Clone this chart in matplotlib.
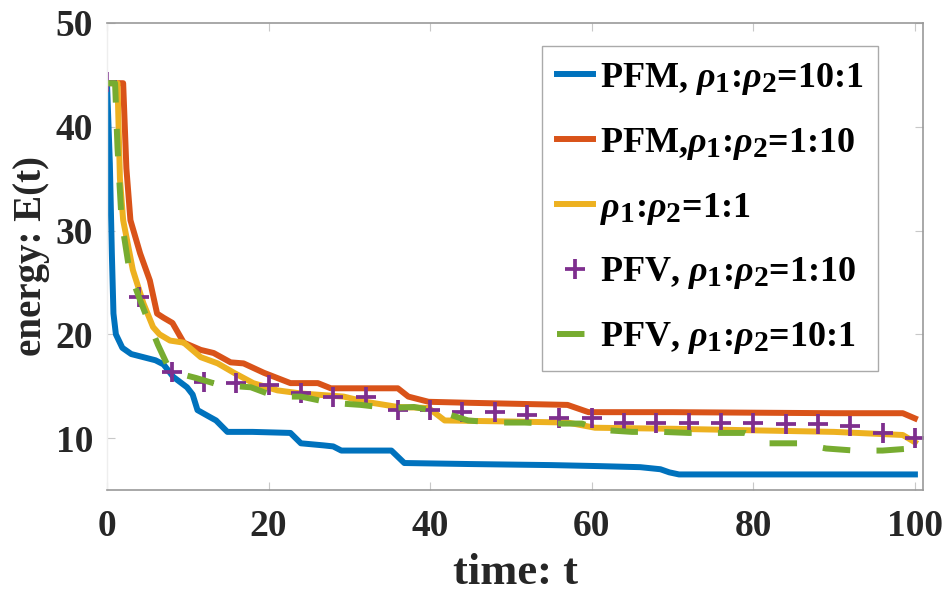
import matplotlib
matplotlib.use("Agg")
import matplotlib.pyplot as plt
try:
    import matplotlib._mathtext as _mt
    _mt.SHRINK_FACTOR = 0.82
except Exception:
    pass

# ---- data ----
t_pfm_10_1 = [0, 0.35, 0.6, 0.8, 1.1, 1.9, 3, 4.5, 6, 7, 8.2, 9.9, 10.6, 11.2, 12.8, 13.5, 14.9,
              18, 22.7, 24, 26.8, 28, 29, 30, 35.2, 36.8, 45, 55, 61, 66, 68.5, 69.6, 70.8, 100]
E_pfm_10_1 = [44.2, 36.5, 27.8, 22.0, 20.0, 18.7, 18.1, 17.8, 17.5, 17.1, 15.9, 14.9, 14.2, 12.7, 12.0, 11.7, 10.6,
              10.6, 10.5, 9.5, 9.3, 9.2, 8.8, 8.8, 8.8, 7.6, 7.5, 7.4, 7.3, 7.2, 7.0, 6.7, 6.5, 6.5]

t_pfm_1_10 = [0, 2.0, 2.4, 2.9, 4.1, 5.3, 6.2, 7, 8.1, 9.5, 11.6, 13.2, 15.3, 16.9, 19.4, 22.7, 24, 26.1,
              27.7, 36, 37.3, 39.8, 45, 57, 59.6, 70, 90, 98.5, 100]
E_pfm_1_10 = [44.2, 44.2, 36, 31, 27.8, 25.2, 22, 21.6, 21.1, 19.2, 18.5, 18.2, 17.3, 17.2, 16.3, 15.3, 15.3, 15.3,
              14.8, 14.8, 14.0, 13.5, 13.4, 13.2, 12.5, 12.5, 12.4, 12.4, 11.9]

t_1_1 = [0, 1.3, 1.6, 2, 3.2, 4.5, 5.7, 6.5, 7.8, 9.5, 11.6, 13.7, 15.7, 18.1, 21.1, 24, 29.3, 32, 36,
         39.8, 41.8, 50, 57, 60.4, 70, 90, 98.5, 100]
E_1_1 = [44.2, 44.2, 35, 31, 26.2, 23, 20.7, 20, 19.4, 19.2, 17.8, 17.2, 16.3, 15.3, 14.6, 14.3, 14.0, 13.5, 13.0,
         12.9, 11.7, 11.6, 11.5, 11.0, 10.9, 10.6, 10.3, 9.6]

t_pfv_1_10 = [0, 4, 8, 12, 16, 20, 24, 28, 32, 36, 40, 44, 48, 52, 56, 60, 64, 68, 72, 76, 80, 84, 88, 92, 96, 100]
E_pfv_1_10 = [44.3, 23.6, 16.4, 15.4, 15.3, 15.1, 14.3, 14.0, 14.0, 12.7, 12.7, 12.5, 12.5, 12.2, 11.9, 11.9,
              11.5, 11.5, 11.5, 11.5, 11.5, 11.4, 11.4, 11.2, 10.5, 10.0]

t_pfv_10_1 = [0, 1.0, 1.3, 1.8, 2.8, 4, 5, 6.3, 7.8, 9, 11, 14, 17.8, 20.9, 24, 27.7, 31.4, 34.8, 38, 41.4,
              44.7, 48, 51.7, 54.8, 58.8, 61, 65, 68.7, 72, 75.5, 79, 82, 85.7, 89, 92.5, 96, 99.5, 100]
E_pfv_10_1 = [44.2, 44.2, 38, 31, 26, 23.5, 21.5, 19, 16.5, 16.2, 15.8, 15.1, 14.9, 14.0, 14.0, 13.4, 13.2, 12.9, 13.0, 12.5,
              11.7, 11.5, 11.5, 11.4, 11.4, 10.8, 10.6, 10.6, 10.5, 10.5, 10.5, 9.5, 9.5, 9.0, 8.8, 8.8, 9.0, 9.0]

labels = [r"PFM, $\rho_1$:$\rho_2$=10:1",
          r"PFM,$\rho_1$:$\rho_2$=1:10",
          r"$\rho_1$:$\rho_2$=1:1",
          r"PFV, $\rho_1$:$\rho_2$=1:10",
          r"PFV, $\rho_1$:$\rho_2$=10:1"]
x_ticks = [0, 20, 40, 60, 80, 100]
y_ticks = [10, 20, 30, 40, 50]

# ---- style ----
plt.rcParams['font.family'] = ['Liberation Serif', 'DejaVu Serif']
plt.rcParams['font.weight'] = 'bold'
plt.rcParams['mathtext.fontset'] = 'custom'
plt.rcParams['mathtext.rm'] = 'Liberation Serif:bold'
plt.rcParams['mathtext.it'] = 'Liberation Serif:italic'
plt.rcParams['mathtext.bf'] = 'Liberation Serif:bold'

fig = plt.figure(figsize=(9.46, 5.94), dpi=100)
ax = fig.add_axes([107/946, 1 - 490/594, (923 - 107)/946, (490 - 23)/594])

lw = 4.3
ax.plot(t_pfm_10_1, E_pfm_10_1, color='#0072BD', lw=lw, label=labels[0])
ax.plot(t_pfm_1_10, E_pfm_1_10, color='#D95319', lw=lw, label=labels[1])
ax.plot(t_1_1, E_1_1, color='#EDB120', lw=lw, label=labels[2])
ax.plot(t_pfv_1_10, E_pfv_1_10, ls='none', marker='+', ms=15, mew=2.7, color='#7E2F8E', label=labels[3])
ax.plot(t_pfv_10_1, E_pfv_10_1, color='#77AC30', lw=lw, ls=(0, (4.6, 4.4)), label=labels[4])

ax.set_xlim(0, 101)
ax.set_ylim(5, 50)
ax.set_xticks(x_ticks)
ax.set_yticks(y_ticks)
ax.tick_params(direction='in', length=6, width=0.8, color='#c8c8c8',
               labelsize=27, labelcolor='#262626', top=True, right=True)
ax.tick_params(axis='x', pad=14)
ax.tick_params(axis='y', pad=10)
for lab in ax.get_xticklabels() + ax.get_yticklabels():
    lab.set_fontweight('bold')

for s in ['top', 'right', 'bottom']:
    ax.spines[s].set_color('#999999')
    ax.spines[s].set_linewidth(1.2)
ax.spines['left'].set_color('#eeeeee')
ax.spines['left'].set_linewidth(1.0)

ax.set_xlabel('time: t', fontsize=32, fontweight='bold', color='#262626', labelpad=6)
ax.set_ylabel('energy: E(t)', fontsize=28, fontweight='bold', color='#262626', labelpad=4)

leg = ax.legend(loc='upper right', bbox_to_anchor=(0.945, 0.950), borderaxespad=0,
                prop={'weight': 'bold', 'size': 26}, handlelength=1.0, handletextpad=0.2,
                labelspacing=0.8, borderpad=0.4, fancybox=False, framealpha=1)
leg.get_frame().set_edgecolor('#aaaaaa')
leg.get_frame().set_linewidth(1.0)

fig.savefig('out.png', dpi=100)
